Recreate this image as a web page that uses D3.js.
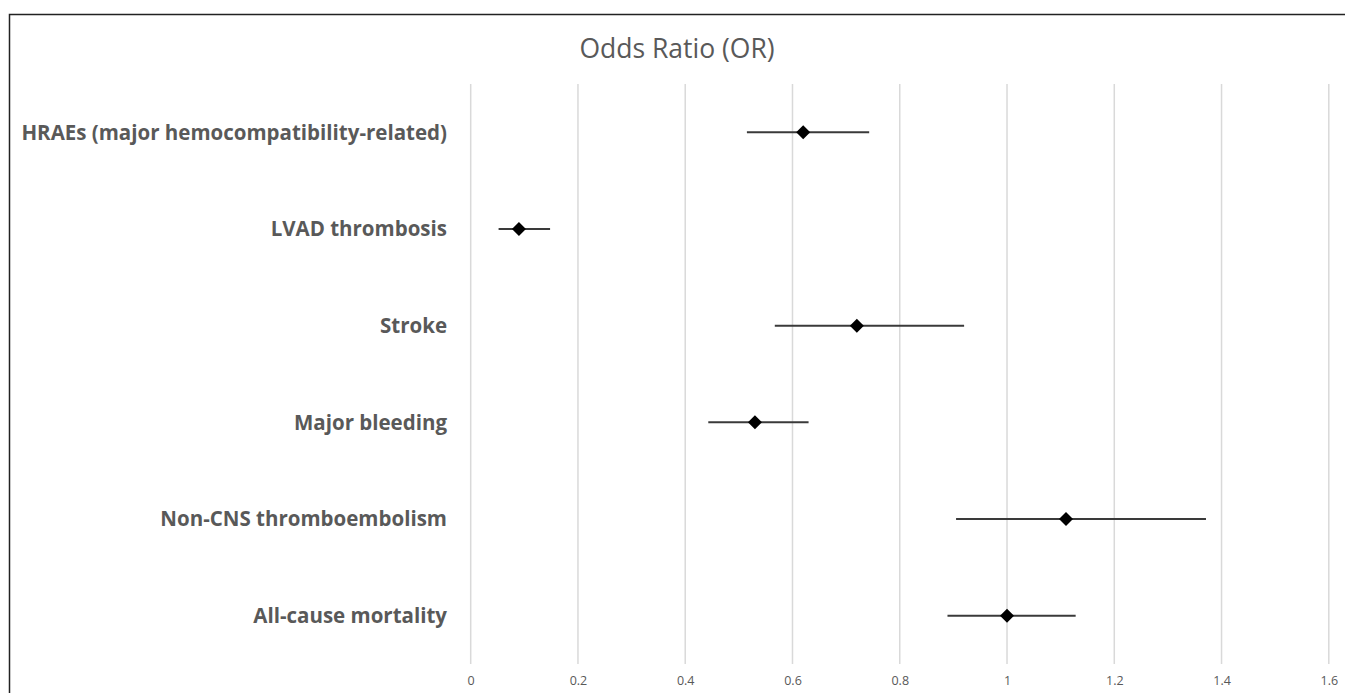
<!DOCTYPE html>
<html>
<head>
<meta charset="utf-8">
<script src="https://cdn.jsdelivr.net/npm/d3@7"></script>
<style>
  body { margin: 0; background: #fff; }
  text { font-family: "Open Sans", "Noto Sans", sans-serif; }
</style>
</head>
<body>
<div id="chart"></div>
<script>
const categories = [
    'HRAEs (major hemocompatibility-related)',
    'LVAD thrombosis',
    'Stroke',
    'Major bleeding',
    'Non-CNS thromboembolism',
    'All-cause mortality'
];
const oddsRatio = [0.62, 0.09, 0.72, 0.53, 1.11, 1.00];
const lowerCI = [0.515, 0.052, 0.567, 0.443, 0.905, 0.889];
const upperCI = [0.743, 0.148, 0.92, 0.63, 1.371, 1.128];
const tickValues = [0, 0.2, 0.4, 0.6, 0.8, 1, 1.2, 1.4, 1.6];

const width = 1345;
const height = 693;

const svg = d3.select('#chart')
    .append('svg')
    .attr('width', width)
    .attr('height', height);

// frame (only top and left are visible in the crop)
svg.append('path')
    .attr('d', `M9.5,${height} L9.5,14.5 L${width},14.5`)
    .attr('fill', 'none')
    .attr('stroke', '#222')
    .attr('stroke-width', 1.5);

svg.append('text')
    .attr('x', 677)
    .attr('y', 58)
    .attr('text-anchor', 'middle')
    .attr('font-size', 26.5)
    .attr('fill', '#595959')
    .text('Odds Ratio (OR)');

const x = d3.scaleLinear()
    .domain([0, 1.6])
    .range([470.7, 1328.8]);

const y = d3.scaleBand()
    .domain(categories)
    .range([84, 664]);

// vertical gridlines
svg.append('g')
    .selectAll('line')
    .data(tickValues)
    .enter().append('line')
    .attr('x1', d => x(d))
    .attr('x2', d => x(d))
    .attr('y1', 84)
    .attr('y2', 664)
    .attr('stroke', '#d9d9d9')
    .attr('stroke-width', 1.5);

// tick labels along the bottom
const xAxis = svg.append('g')
    .attr('transform', 'translate(0,664)')
    .call(d3.axisBottom(x).tickValues(tickValues).tickFormat(d3.format('')).tickSize(0).tickPadding(12));
xAxis.select('.domain').remove();
xAxis.selectAll('text')
    .attr('font-family', '"Open Sans", sans-serif')
    .attr('font-size', 12.5)
    .attr('fill', '#595959');

// category labels
svg.append('g')
    .selectAll('text')
    .data(categories)
    .enter().append('text')
    .attr('x', 447)
    .attr('y', d => y(d) + y.bandwidth() / 2)
    .attr('dy', '0.36em')
    .attr('text-anchor', 'end')
    .attr('font-size', 20.5)
    .attr('font-weight', 'bold')
    .attr('fill', '#595959')
    .text(d => d);

const rows = categories.map((c, i) => ({ cat: c, or: oddsRatio[i], lo: lowerCI[i], hi: upperCI[i] }));

// confidence intervals
svg.append('g')
    .selectAll('line')
    .data(rows)
    .enter().append('line')
    .attr('x1', d => x(d.lo))
    .attr('x2', d => x(d.hi))
    .attr('y1', d => y(d.cat) + y.bandwidth() / 2)
    .attr('y2', d => y(d.cat) + y.bandwidth() / 2)
    .attr('stroke', '#3a3a3a')
    .attr('stroke-width', 2);

// point estimates
svg.append('g')
    .selectAll('path')
    .data(rows)
    .enter().append('path')
    .attr('transform', d => `translate(${x(d.or)},${y(d.cat) + y.bandwidth() / 2})`)
    .attr('d', 'M0,-7 L7,0 L0,7 L-7,0 Z')
    .attr('fill', '#000');
</script>
</body>
</html>
